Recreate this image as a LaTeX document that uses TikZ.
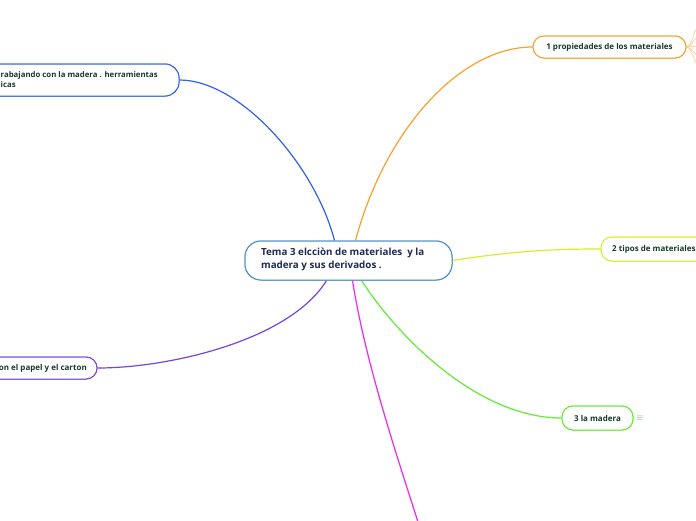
\documentclass[tikz,border=0pt]{standalone}
\usepackage{fontspec}
\setmainfont{Open Sans}
\definecolor{cblue}{HTML}{2F62EE}
\definecolor{corange}{HTML}{F6A22E}
\definecolor{cyellow}{HTML}{D8EE2A}
\definecolor{cgreen}{HTML}{62EC36}
\definecolor{cmag}{HTML}{EE28EE}
\definecolor{cpurple}{HTML}{7444E4}
\definecolor{cborder}{HTML}{4A8CC6}
\definecolor{navytext}{HTML}{1E2B52}
\definecolor{greentext}{HTML}{173A2A}
\tikzset{
  box/.style={draw, rounded corners=11pt, line width=1pt, fill=white, inner sep=0pt},
  small/.style={font=\fontsize{8}{10}\selectfont\bfseries, text=greentext, inner sep=0pt},
  conn/.style={line width=1.2pt}
}
\begin{document}
\begin{tikzpicture}[x=1pt,y=-1pt]
\useasboundingbox (0,0) rectangle (696,520);
\clip (0,0) rectangle (696,520);
\fill[white] (0,0) rectangle (696,520);
% boxes (named, used by connectors)
\node[box, draw=cborder, rounded corners=16pt, minimum width=207pt, minimum height=39pt] (c) at (348.5,260.5) {};
\node[box, draw=cblue, minimum width=220pt, minimum height=32pt, rounded corners=14pt] (tl) at (69,80) {};
\node[box, draw=corange, minimum width=153pt, minimum height=22pt] (n1) at (609.5,47) {};
\node[box, draw=cyellow, minimum width=140pt, minimum height=24pt] (n2) at (671,249) {};
\node[box, draw=cgreen, minimum width=71pt, minimum height=24pt] (n3) at (597.5,418) {};
\node[box, draw=cpurple, minimum width=160pt, minimum height=22pt] (pb) at (17,368) {};
\coordinate (mend) at (418,522);
\foreach \yy in {26,36,46,56,66} {
  \draw[corange!55, line width=0.6pt] (n1.east) .. controls +(6,0) and +(-6,0) .. (700,\yy);
}
\draw[conn, cblue] (tl.east) .. controls (240,80) and (315,165) .. ([xshift=-14pt]c.north);
\draw[conn, corange] ([xshift=7pt]c.north) .. controls (385,130) and (460,47) .. (n1.west);
\draw[conn, cyellow] (c.east) .. controls (520,250) and (560,249) .. (n2.west);
\draw[conn, cgreen] ([xshift=13pt]c.south) .. controls (400,340) and (480,418) .. (n3.west);
\draw[conn, cmag] ([xshift=4pt]c.south) .. controls (365,360) and (395,450) .. (mend);
\draw[conn, cpurple] ([xshift=-22pt]c.south) .. controls (290,340) and (170,368) .. (pb.east);
% redraw boxes on top of connector ends
\node[box, draw=cborder, rounded corners=16pt, minimum width=207pt, minimum height=39pt] at (348.5,260.5) {};
\node[box, draw=cblue, minimum width=220pt, minimum height=32pt, rounded corners=14pt] at (69,80) {};
\node[box, draw=corange, minimum width=153pt, minimum height=22pt] at (609.5,47) {};
\node[box, draw=cyellow, minimum width=140pt, minimum height=24pt] at (671,249) {};
\node[box, draw=cgreen, minimum width=71pt, minimum height=24pt] at (597.5,418) {};
\node[box, draw=cpurple, minimum width=160pt, minimum height=22pt] at (17,368) {};
% texts
\node[anchor=north west, align=left, inner sep=0pt, text=navytext, font=\fontsize{9.8}{13}\selectfont\bfseries] (ct) at (261,248) {Tema 3 elcciòn de materiales \ y la\\madera y sus derivados .};
\node[small, anchor=west, align=left, font=\fontsize{7.8}{10}\selectfont\bfseries] (tlt) at (0.5,80) {rabajando con la madera . herramientas\\icas};
\node[small] (n1t) at (n1) {1 propiedades de los materiales};
\node[small, anchor=west] (n2t) at (612,249) {2 tipos de materiales};
\node[small] (n3t) at (n3) {3 la madera};
\node[small, anchor=east] (pbt) at (87,368) {on el papel y el carton};
\node[font=\fontsize{9}{9}\selectfont, text=gray!70!green, inner sep=0pt] (ic) at (640,418) {$\equiv$};
\end{tikzpicture}
\end{document}
